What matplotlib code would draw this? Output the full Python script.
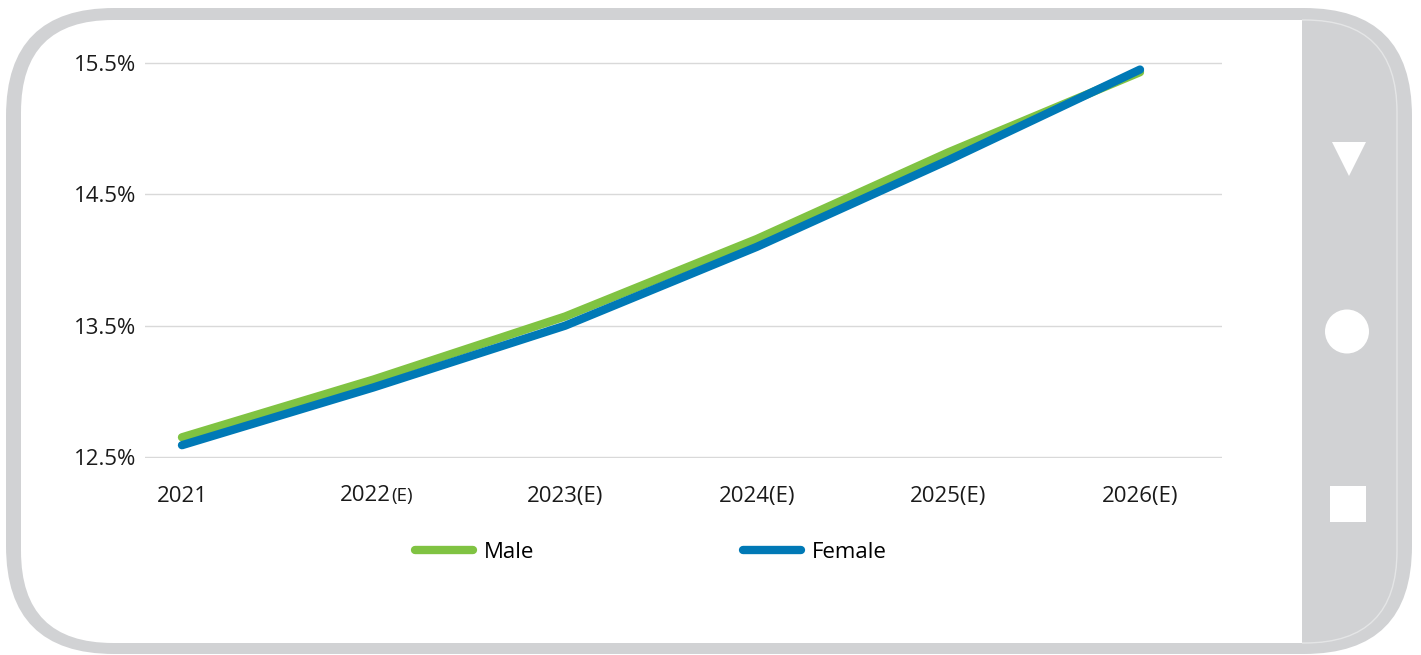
import matplotlib.pyplot as plt
from matplotlib.patches import FancyBboxPatch, Rectangle, Polygon, Circle

years = ["2021", "2022(E)", "2023(E)", "2024(E)", "2025(E)", "2026(E)"]
male = [12.65, 13.09, 13.57, 14.16, 14.82, 15.43]
female = [12.59, 13.03, 13.50, 14.10, 14.76, 15.45]
yticks = [12.5, 13.5, 14.5, 15.5]
ytick_labels = ["12.5%", "13.5%", "14.5%", "15.5%"]

GREEN = "#80c342"
BLUE = "#0079b6"
FRAME = "#d1d2d4"
TXT = "#1a1a1a"

plt.rcParams['font.family'] = ['Open Sans', 'DejaVu Sans']

W, H = 1421, 655
fig = plt.figure(figsize=(W / 100, H / 100), dpi=100)

# phone frame drawn in pixel coordinates
bg = fig.add_axes([0, 0, 1, 1])
bg.set_xlim(0, W)
bg.set_ylim(H, 0)
bg.axis("off")

outer = FancyBboxPatch((6, 8), 1406, 646, boxstyle="round,pad=0,rounding_size=108",
                       fc=FRAME, ec="none")
bg.add_patch(outer)
inner = FancyBboxPatch((21, 20), 1376, 623, boxstyle="round,pad=0,rounding_size=92",
                       fc="white", ec="none")
bg.add_patch(inner)
panel = Rectangle((1302, 0), 200, H, fc=FRAME, ec="none")
bg.add_patch(panel)
panel.set_clip_path(inner)
# faint inner edge only shows over the button panel
edge = FancyBboxPatch((21, 20), 1376, 623, boxstyle="round,pad=0,rounding_size=92",
                      fc="none", ec="#e4e5e6", lw=1)
bg.add_patch(edge)
clip_box = Rectangle((1302, 0), 200, H, transform=bg.transData)
edge.set_clip_path(clip_box)

bg.add_patch(Polygon([(1332, 142), (1366, 142), (1349, 176)], closed=True, fc="white", ec="none"))
bg.add_patch(Circle((1347, 331.5), 22, fc="white", ec="none"))
bg.add_patch(Rectangle((1330, 486), 36, 36, fc="white", ec="none"))

# chart
ylo, yhi = 12.49, 15.51
px_per = (457 - 63) / 3.0
top_px = 63 - (yhi - 15.5) * px_per
bot_px = 457 + (12.5 - ylo) * px_per
ax = fig.add_axes([145 / W, 1 - bot_px / H, (1222 - 145) / W, (bot_px - top_px) / H])
ax.patch.set_alpha(0)
x = list(range(len(years)))
ax.plot(x, male, color=GREEN, lw=6, solid_capstyle="round", label="Male", clip_on=False)
ax.plot(x, female, color=BLUE, lw=6, solid_capstyle="round", label="Female", clip_on=False)

ax.set_xlim(-0.193, 5.428)
ax.set_ylim(ylo, yhi)
ax.set_yticks(yticks, ytick_labels)
# 2022 label is drawn by hand below because its "(E)" is smaller
ax.set_xticks(x, [y if i != 1 else "" for i, y in enumerate(years)])
ax.tick_params(axis="both", length=0, labelsize=16, colors=TXT)
ax.tick_params(axis="y", pad=6)
ax.tick_params(axis="x", pad=20)
ax.grid(axis="y", color="#d9d9d9", lw=1)
ax.set_axisbelow(True)
for s in ax.spines.values():
    s.set_visible(False)

trans = ax.get_xaxis_transform()
head, tail = years[1][:4], years[1][4:]
ax.annotate(head, xy=(1, 0), xycoords=trans, xytext=(12.5, -31), textcoords="offset points",
            ha="right", va="baseline", fontsize=16, color=TXT)
ax.annotate(tail, xy=(1, 0), xycoords=trans, xytext=(12.8, -31), textcoords="offset points",
            ha="left", va="baseline", fontsize=13.5, color=TXT)

fig.legend(loc="center", bbox_to_anchor=(651 / W, 1 - 552 / H), ncol=2, frameon=False,
           fontsize=16, handlelength=2.6, handletextpad=0.5, columnspacing=9.4)

fig.savefig("out.png", dpi=100)
